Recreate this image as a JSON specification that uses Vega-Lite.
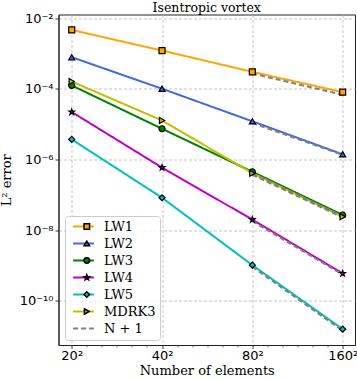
{
  "$schema": "https://vega.github.io/schema/vega-lite/v6.json",
  "autosize": {"type": "none"},
  "padding": {"left": 58.5, "top": 14.5, "right": 2, "bottom": 35},
  "width": 296.5,
  "height": 330.5,
  "background": "white",
  "title": {"text": "Isentropic vortex", "font": "DejaVu Serif", "fontSize": 12.5, "fontWeight": "normal", "offset": -2.5, "color": "#000"},
  "config": {
    "view": {"stroke": "#222", "strokeWidth": 1},
    "axis": {"domainColor": "#222", "tickColor": "#222", "labelColor": "#000", "titleColor": "#000"}
  },
  "data": {"values": [
    {"s": "LW1", "g": "LW1", "n": 20, "e": 4.6e-3},
    {"s": "LW1", "g": "LW1", "n": 40, "e": 1.2e-3},
    {"s": "LW1", "g": "LW1", "n": 80, "e": 3.0e-4},
    {"s": "LW1", "g": "LW1", "n": 160, "e": 8.0e-5},
    {"s": "LW2", "g": "LW2", "n": 20, "e": 7.8e-4},
    {"s": "LW2", "g": "LW2", "n": 40, "e": 1.0e-4},
    {"s": "LW2", "g": "LW2", "n": 80, "e": 1.2e-5},
    {"s": "LW2", "g": "LW2", "n": 160, "e": 1.4e-6},
    {"s": "LW3", "g": "LW3", "n": 20, "e": 1.24e-4},
    {"s": "LW3", "g": "LW3", "n": 40, "e": 7.4e-6},
    {"s": "LW3", "g": "LW3", "n": 80, "e": 4.5e-7},
    {"s": "LW3", "g": "LW3", "n": 160, "e": 2.7e-8},
    {"s": "LW4", "g": "LW4", "n": 20, "e": 2.2e-5},
    {"s": "LW4", "g": "LW4", "n": 40, "e": 5.9e-7},
    {"s": "LW4", "g": "LW4", "n": 80, "e": 2.0e-8},
    {"s": "LW4", "g": "LW4", "n": 160, "e": 6.0e-10},
    {"s": "LW5", "g": "LW5", "n": 20, "e": 3.7e-6},
    {"s": "LW5", "g": "LW5", "n": 40, "e": 8.3e-8},
    {"s": "LW5", "g": "LW5", "n": 80, "e": 1.03e-9},
    {"s": "LW5", "g": "LW5", "n": 160, "e": 1.6e-11},
    {"s": "MDRK3", "g": "MDRK3", "n": 20, "e": 1.6e-4},
    {"s": "MDRK3", "g": "MDRK3", "n": 40, "e": 1.27e-5},
    {"s": "MDRK3", "g": "MDRK3", "n": 80, "e": 4.1e-7},
    {"s": "MDRK3", "g": "MDRK3", "n": 160, "e": 2.4e-8},
    {"s": "N + 1", "g": "d1", "n": 80, "e": 2.7e-4},
    {"s": "N + 1", "g": "d1", "n": 160, "e": 6.75e-5},
    {"s": "N + 1", "g": "d2", "n": 80, "e": 1.08e-5},
    {"s": "N + 1", "g": "d2", "n": 160, "e": 1.35e-6},
    {"s": "N + 1", "g": "d3", "n": 80, "e": 4.0e-7},
    {"s": "N + 1", "g": "d3", "n": 160, "e": 2.5e-8},
    {"s": "N + 1", "g": "d4", "n": 80, "e": 1.8e-8},
    {"s": "N + 1", "g": "d4", "n": 160, "e": 5.6e-10},
    {"s": "N + 1", "g": "d5", "n": 80, "e": 9.3e-10},
    {"s": "N + 1", "g": "d5", "n": 160, "e": 1.45e-11},
    {"s": "N + 1", "g": "d6", "n": 80, "e": 3.7e-7},
    {"s": "N + 1", "g": "d6", "n": 160, "e": 2.3e-8}
  ]},
  "encoding": {
    "x": {
      "field": "n", "type": "quantitative",
      "scale": {"type": "log", "domain": [18.07, 175.9], "nice": false},
      "axis": {
        "title": "Number of elements",
        "titleFont": "DejaVu Serif", "titleFontSize": 13, "titleFontWeight": "normal", "titlePadding": 2,
        "labelFont": "DejaVu Sans", "labelFontSize": 13, "labelPadding": 1,
        "values": [20, 22.45, 25.2, 28.28, 31.75, 35.64, 40, 44.9, 50.4, 56.57, 63.5, 71.27, 80, 89.8, 100.8, 113.1, 127.0, 142.5, 160],
        "labelExpr": "datum.value == 20 ? '20²' : datum.value == 40 ? '40²' : datum.value == 80 ? '80²' : datum.value == 160 ? '160²' : ''",
        "tickSize": {"condition": {"test": "indexof([20,40,80,160], datum.value) < 0", "value": 2}, "value": 3.5},
        "tickWidth": {"condition": {"test": "indexof([20,40,80,160], datum.value) < 0", "value": 0.6}, "value": 0.9},
        "grid": true,
        "gridOpacity": {"condition": {"test": "indexof([20,40,80,160], datum.value) < 0", "value": 0}, "value": 1},
        "gridColor": "#b8b8b8", "gridDash": [3, 2], "gridWidth": 0.8,
        "labelOverlap": false
      }
    },
    "y": {
      "field": "e", "type": "quantitative",
      "scale": {"type": "log", "domain": [5.7e-12, 0.01256], "nice": false},
      "axis": {
        "title": "L² error",
        "titleFont": "DejaVu Serif", "titleFontSize": 13, "titleFontWeight": "normal", "titlePadding": 6,
        "labelFont": "DejaVu Sans", "labelFontSize": 13, "labelPadding": 2,
        "values": [1e-10, 1e-8, 1e-6, 1e-4, 1e-2],
        "labelExpr": "datum.value > 5e-3 ? '10⁻²' : datum.value > 5e-5 ? '10⁻⁴' : datum.value > 5e-7 ? '10⁻⁶' : datum.value > 5e-9 ? '10⁻⁸' : '10⁻¹⁰'",
        "tickSize": 3.5, "tickWidth": 0.9,
        "grid": true, "gridColor": "#b8b8b8", "gridDash": [3, 2], "gridWidth": 0.8,
        "labelOverlap": false
      }
    }
  },
  "layer": [
    {
      "mark": {"type": "line", "strokeWidth": 2},
      "encoding": {
        "color": {
          "field": "s", "type": "nominal",
          "scale": {"domain": ["LW1", "LW2", "LW3", "LW4", "LW5", "MDRK3", "N + 1"], "range": ["#ffa500", "#4169e1", "#008000", "#bf00bf", "#00bfbf", "#bfbf00", "#808080"]},
          "legend": {
            "title": null, "zindex": 0,
            "orient": "none", "legendX": 6.5, "legendY": 201.5,
            "labelFont": "DejaVu Serif", "labelFontSize": 13, "labelColor": "#000",
            "symbolSize": 85, "symbolStrokeWidth": 1.8, "symbolOffset": 8,
            "symbolType": "M-2.25,0H2.25",
            "labelOffset": 14, "rowPadding": 3, "padding": 4,
            "fillColor": "rgba(255,255,255,0.8)", "strokeColor": "#cccccc", "cornerRadius": 3
          }
        },
        "strokeDash": {
          "field": "s", "type": "nominal",
          "scale": {"domain": ["LW1", "LW2", "LW3", "LW4", "LW5", "MDRK3", "N + 1"], "range": [[1, 0], [1, 0], [1, 0], [1, 0], [1, 0], [1, 0], [5, 3]]}
        },
        "detail": {"field": "g"}
      }
    },
    {
      "transform": [{"filter": "datum.s != 'N + 1'"}],
      "mark": {"type": "point", "filled": true, "stroke": "#000", "strokeWidth": 1.2, "size": 36, "opacity": 1},
      "encoding": {
        "fill": {
          "field": "s", "type": "nominal",
          "scale": {"domain": ["LW1", "LW2", "LW3", "LW4", "LW5", "MDRK3"], "range": ["#ffa500", "#4169e1", "#008000", "#bf00bf", "#00bfbf", "#bfbf00"]},
          "legend": null
        },
        "shape": {
          "field": "s", "type": "nominal",
          "scale": {"domain": ["LW1", "LW2", "LW3", "LW4", "LW5", "MDRK3"], "range": ["square", "triangle-up", "circle", "M0,-1L0.235,-0.324L0.951,-0.309L0.38,0.124L0.588,0.809L0,0.4L-0.588,0.809L-0.38,0.124L-0.951,-0.309L-0.235,-0.324Z", "diamond", "triangle-right"]},
          "legend": {
            "title": null, "zindex": 1,
            "orient": "none", "legendX": 6.5, "legendY": 201.5,
            "labelFont": "DejaVu Serif", "labelFontSize": 13, "labelOpacity": 0,
            "labelExpr": "' '",
            "symbolSize": 30, "symbolOffset": 11.3,
            "labelOffset": 14, "rowPadding": 3, "padding": 4,
            "encode": {
              "symbols": {"update": {
                "fill": {"scale": "fill", "field": "value"},
                "fillOpacity": {"value": 1},
                "stroke": {"value": "#000"},
                "strokeWidth": {"value": 1.1},
                "opacity": {"value": 1}
              }}
            }
          }
        }
      }
    }
  ]
}
